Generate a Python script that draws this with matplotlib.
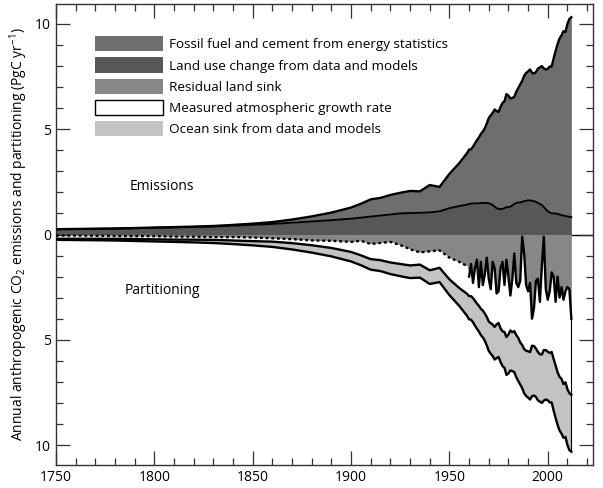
import numpy as np
import matplotlib.pyplot as plt
from matplotlib.patches import Patch
from matplotlib.ticker import MultipleLocator, FuncFormatter

plt.rcParams['font.family'] = ['Open Sans', 'DejaVu Sans']
plt.rcParams['mathtext.fontset'] = 'custom'
plt.rcParams['mathtext.rm'] = 'Open Sans'

# sample years: decadal to 1900, 5-yearly to 1955, annual from 1959
years = list(range(1750, 1901, 10)) + list(range(1905, 1956, 5)) + list(range(1959, 2013))

fossil = [0.003, 0.003, 0.004, 0.005, 0.007, 0.01, 0.012, 0.015, 0.025, 0.035,
          0.055, 0.09, 0.15, 0.24, 0.36, 0.53,
          0.66, 0.82, 0.84, 0.93, 0.98, 1.05, 1.02, 1.3, 1.16, 1.63, 2.04,
          2.45, 2.58, 2.59, 2.70, 2.85, 3.00, 3.13, 3.29, 3.39, 3.55,
          3.77, 4.05, 4.21, 4.38, 4.62, 4.62, 4.60, 4.86, 5.03, 5.08,
          5.37, 5.30, 5.14, 5.11, 5.09, 5.28, 5.44, 5.61, 5.75, 5.96,
          6.07, 6.13, 6.22, 6.08, 6.07, 6.17, 6.38, 6.49, 6.60, 6.59,
          6.64, 6.77, 6.93, 6.98, 7.37, 7.72, 8.07, 8.36, 8.54, 8.76,
          8.74, 9.14, 9.40, 9.50]

land_use = [0.25, 0.26, 0.27, 0.28, 0.3, 0.32, 0.34, 0.36, 0.38, 0.42,
            0.46, 0.5, 0.56, 0.62, 0.68, 0.75,
            0.8, 0.85, 0.9, 0.95, 1.0, 1.02, 1.03, 1.05, 1.1, 1.25, 1.35,
            1.42, 1.45, 1.46, 1.47, 1.48, 1.48, 1.48, 1.49, 1.5, 1.5,
            1.5, 1.48, 1.45, 1.4, 1.32, 1.25, 1.22, 1.2, 1.22, 1.25,
            1.3, 1.3, 1.32, 1.38, 1.45, 1.5, 1.52, 1.52, 1.55, 1.58,
            1.6, 1.62, 1.62, 1.6, 1.58, 1.55, 1.5, 1.45, 1.4, 1.3,
            1.2, 1.1, 1.05, 1.0, 1.0, 1.0, 0.98, 0.95, 0.92, 0.9,
            0.88, 0.86, 0.84, 0.82]

ocean_sink = [0.05, 0.06, 0.07, 0.08, 0.09, 0.1, 0.11, 0.13, 0.15, 0.17,
              0.2, 0.25, 0.3, 0.35, 0.4, 0.45,
              0.47, 0.5, 0.52, 0.55, 0.58, 0.6, 0.62, 0.65, 0.68, 0.75, 0.85,
              1.05, 1.1, 1.12, 1.15, 1.18, 1.2, 1.22, 1.25, 1.28, 1.3,
              1.35, 1.4, 1.45, 1.5, 1.55, 1.6, 1.62, 1.6, 1.65, 1.7,
              1.8, 1.85, 1.9, 1.85, 1.95, 2.0, 2.05, 2.0, 2.05, 2.1,
              2.15, 2.2, 2.25, 2.4, 2.35, 2.3, 2.3, 2.25, 2.3, 2.4,
              2.35, 2.3, 2.35, 2.4, 2.45, 2.5, 2.5, 2.55, 2.6, 2.55,
              2.6, 2.65, 2.7, 2.7]

land_sink = [0.05, 0.05, 0.06, 0.07, 0.08, 0.08, 0.1, 0.1, 0.12, 0.12,
             0.14, 0.18, 0.22, 0.28, 0.3, 0.35,
             0.3, 0.45, 0.4, 0.35, 0.5, 0.7, 0.85, 0.8, 0.75, 1.1, 1.3,
             1.5, 2.0, 1.4, 2.3, 1.6, 1.2, 2.5, 1.3, 2.4, 1.9,
             1.1, 2.1, 2.6, 1.3, 1.6, 2.8, 2.7, 1.6, 1.3, 2.4,
             1.2, 2.0, 2.9, 2.1, 0.9, 2.3, 2.5, 2.2, 0.1, 0.9,
             2.4, 2.7, 2.3, 4.0, 3.5, 2.2, 2.1, 3.2, 1.5, 0.1,
             2.6, 3.1, 2.7, 1.8, 2.0, 3.2, 2.0, 3.0, 2.5, 3.1,
             2.7, 2.5, 2.6, 4.0]

yr = np.array(years)
luc = np.array(land_use)
total = luc + np.array(fossil)
land = -np.array(land_sink)
ocean_top = -(total - np.array(ocean_sink))
bottom = -total

c_fossil = '#6e6e6e'
c_luc = '#575757'
c_land = '#878787'
c_ocean = '#c3c3c3'

fig = plt.figure(figsize=(6.03, 4.88), dpi=100)
ax = fig.add_axes([56 / 603, 1 - 465 / 488, 537 / 603, 461 / 488])

ax.axhline(0, color='k', lw=1.0, zorder=0)
ax.fill_between(yr, luc, total, color=c_fossil, lw=0, zorder=1)
ax.fill_between(yr, 0, luc, color=c_luc, lw=0, zorder=1)
ax.fill_between(yr, 0, land, color=c_land, lw=0, zorder=1)
ax.fill_between(yr, land, ocean_top, color='white', lw=0, zorder=1)
ax.fill_between(yr, ocean_top, bottom, color=c_ocean, lw=0, zorder=1)

lw = 1.7
ax.plot(yr, total, color='k', lw=lw, zorder=3)
ax.plot(yr, luc, color='k', lw=lw * 0.8, zorder=3)
early = yr <= 1959
ax.plot(yr[early], land[early], color='k', lw=lw, ls=(0, (1.2, 1.2)), zorder=3)
ax.plot(yr[~early], land[~early], color='k', lw=lw, zorder=3)
ax.plot(yr, ocean_top, color='k', lw=lw, zorder=3)
ax.plot(yr, bottom, color='k', lw=lw, zorder=3)
ax.vlines(yr[-1], bottom[-1], land[-1], color='k', lw=0.8, zorder=2)

ax.set_xlim(1750, 2023)
ax.set_ylim(-10.95, 10.95)
ax.xaxis.set_major_locator(MultipleLocator(50))
ax.xaxis.set_minor_locator(MultipleLocator(10))
ax.yaxis.set_major_locator(MultipleLocator(5))
ax.yaxis.set_minor_locator(MultipleLocator(1))
ax.yaxis.set_major_formatter(FuncFormatter(lambda v, p: f'{abs(v):.0f}'))
ax.tick_params(which='both', direction='in', top=True, right=True,
               labelsize=10, color='#333333', width=0.9)
ax.tick_params(which='major', length=10)
ax.tick_params(which='minor', length=5)
for s in ax.spines.values():
    s.set_color('#333333')
    s.set_linewidth(1.0)

ax.set_ylabel(r'Annual anthropogenic CO$_2$ emissions and partitioning (PgC yr$^{-1}$)',
              fontsize=10, labelpad=4)

ax.text(1787.5, 2.3, 'Emissions', fontsize=10, ha='left', va='center')
ax.text(1785, -2.65, 'Partitioning', fontsize=10, ha='left', va='center')

handles = [Patch(facecolor=c_fossil, edgecolor='none'),
           Patch(facecolor=c_luc, edgecolor='none'),
           Patch(facecolor=c_land, edgecolor='none'),
           Patch(facecolor='white', edgecolor='k', lw=1.0),
           Patch(facecolor=c_ocean, edgecolor='none')]
labels = ['Fossil fuel and cement from energy statistics',
          'Land use change from data and models',
          'Residual land sink',
          'Measured atmospheric growth rate',
          'Ocean sink from data and models']
ax.legend(handles, labels, loc='upper left', bbox_to_anchor=(0.072, 0.93),
          frameon=False, fontsize=9.7, handlelength=5.1, handleheight=1.35,
          handletextpad=0.4, labelspacing=0.45, borderpad=0, borderaxespad=0)

fig.savefig('out.png', dpi=100)
